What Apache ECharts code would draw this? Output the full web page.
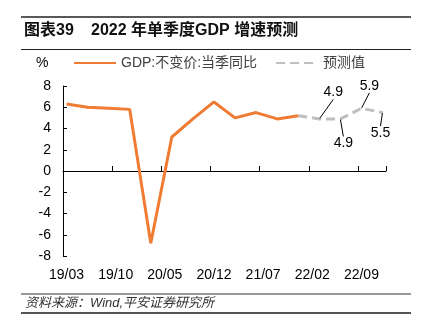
<!DOCTYPE html>
<html><head><meta charset="utf-8">
<script src="https://cdn.jsdelivr.net/npm/echarts@6/dist/echarts.min.js"></script>
<style>html,body{margin:0;padding:0;background:#fff}#c{width:423px;height:322px}</style>
</head><body><div id="c"></div>
<script>
// ---- data ----
const quarters = ['19/03','19/06','19/09','19/12','20/03','20/06','20/09','20/12','21/03','21/06','21/09','21/12','22/03','22/06','22/09','22/12'];
const actualValues   = [6.3, 6.0, 5.9, 5.8, -6.8, 3.2, 4.9, 6.5, 5.0, 5.5, 4.9, 5.2, null, null, null, null];
const forecastValues = [null, null, null, null, null, null, null, null, null, null, null, 5.2, 4.9, 4.9, 5.9, 5.5];
const labeledQuarters = ['22/03','22/06','22/09','22/12'];
const xTickLabels = ['19/03','19/10','20/05','20/12','21/07','22/02','22/09'];
const yMin = -8, yMax = 8, yStep = 2;
const seriesNames = ['GDP:不变价:当季同比', '预测值'];

// ---- monthly category axis ----
const months = [];
for (let y = 19; y <= 22; y++) {
  for (let m = 1; m <= 12; m++) {
    if (y === 19 && m < 3) continue;
    months.push(y + '/' + (m < 10 ? '0' + m : '' + m));
  }
}
function toMonthly(vals, withLabels) {
  return months.map(mo => {
    const qi = quarters.indexOf(mo);
    if (qi < 0 || vals[qi] == null) return null;
    if (withLabels && labeledQuarters.indexOf(mo) >= 0) {
      return { value: vals[qi], symbol: 'circle', symbolSize: 1, label: { show: true } };
    }
    return vals[qi];
  });
}
// label placement (style only)
const labelPlace = {
  '22/03': { pos: 'top', dx: 14, dy: -14 },
  '22/06': { pos: 'bottom', dx: 3, dy: 12 },
  '22/09': { pos: 'top', dx: 8, dy: -10 },
  '22/12': { pos: 'bottom', dx: -2, dy: 8 }
};

const FONT = "'Liberation Sans','Noto Sans CJK SC',sans-serif";
const ORANGE = '#F07C33';
const GRAY = '#BFBFBF';

const forecastData = toMonthly(forecastValues, true).map((d, i) => {
  if (d && typeof d === 'object') {
    d.label.position = labelPlace[months[i]].pos;
  }
  return d;
});

const chart = echarts.init(document.getElementById('c'), null, { renderer: 'canvas' });
chart.setOption({
  animation: false,
  backgroundColor: '#fff',
  textStyle: { fontFamily: FONT },
  grid: { left: 63, right: 37, top: 86, bottom: 66, containLabel: false, outerBoundsMode: 'none' },
  legend: {
    left: 73, top: 56, padding: 0,
    itemWidth: 42, itemHeight: 3, itemGap: 18,
    itemStyle: { opacity: 0 },
    textStyle: { fontSize: 14, color: '#404040', fontFamily: FONT },
    data: seriesNames
  },
  xAxis: [
    {
      type: 'category',
      data: months,
      boundaryGap: true,
      position: 'bottom',
      axisLine: { show: false, onZero: false },
      axisTick: { show: false },
      axisLabel: {
        interval: 6, margin: 12, fontSize: 14, color: '#000', fontFamily: FONT,
        formatter: v => (xTickLabels.indexOf(v) >= 0 ? v : '')
      },
      splitLine: { show: false }
    },
    {
      type: 'category',
      data: months,
      boundaryGap: true,
      position: 'top',
      axisLine: { show: true, onZero: true, lineStyle: { color: '#000', width: 1 } },
      axisTick: { show: true, inside: false, interval: 6, length: 5, lineStyle: { color: '#000' } },
      axisLabel: { show: false },
      splitLine: { show: false }
    }
  ],
  yAxis: {
    type: 'value',
    min: yMin, max: yMax, interval: yStep,
    axisLine: { show: true, lineStyle: { color: '#000', width: 1 } },
    axisTick: { show: true, inside: true, length: 4, lineStyle: { color: '#000' } },
    axisLabel: { fontSize: 14, color: '#000', margin: 12, fontFamily: FONT },
    splitLine: { show: false }
  },
  series: [
    {
      name: seriesNames[0], type: 'line',
      data: toMonthly(actualValues, false),
      connectNulls: true, symbol: 'none', showAllSymbol: true,
      lineStyle: { color: ORANGE, width: 3 },
      itemStyle: { color: ORANGE },
      z: 3
    },
    {
      name: seriesNames[1], type: 'line',
      data: forecastData,
      connectNulls: true, symbol: 'none', showAllSymbol: true,
      lineStyle: { color: GRAY, width: 3, type: [9, 5] },
      itemStyle: { color: GRAY },
      label: { fontSize: 14, color: '#000', fontFamily: FONT, distance: 5 },
      labelLine: { show: true, lineStyle: { color: '#000', width: 1 } },
      labelLayout: function (p) {
        const lp = labelPlace[months[p.dataIndex]];
        return lp ? { dx: lp.dx, dy: lp.dy } : {};
      },
      z: 2
    }
  ],
  graphic: [
    { type: 'line', shape: { x1: 21, y1: 17, x2: 411, y2: 17 }, style: { stroke: '#222', lineWidth: 1.5 } },
    { type: 'text', left: 24, top: 23, style: { text: '图表39', font: "bold 16px " + FONT, fill: '#111' } },
    { type: 'text', left: 91, top: 23, style: { text: '2022 年单季度GDP 增速预测', font: "bold 16px " + FONT, fill: '#111' } },
    { type: 'line', shape: { x1: 21, y1: 49.5, x2: 411, y2: 49.5 }, style: { stroke: '#222', lineWidth: 1 } },
    { type: 'text', left: 36, top: 56, style: { text: '%', font: "14px " + FONT, fill: '#000' } },
    { type: 'line', shape: { x1: 21, y1: 294, x2: 411, y2: 294 }, style: { stroke: '#333', lineWidth: 1 } },
    { type: 'text', left: 25, top: 297, style: { text: '资料来源：Wind,平安证券研究所', font: "italic 13px " + FONT, fill: '#333' } },
    { type: 'line', shape: { x1: 21, y1: 313, x2: 411, y2: 313 }, style: { stroke: '#555', lineWidth: 2 } }
  ]
});
</script></body></html>
